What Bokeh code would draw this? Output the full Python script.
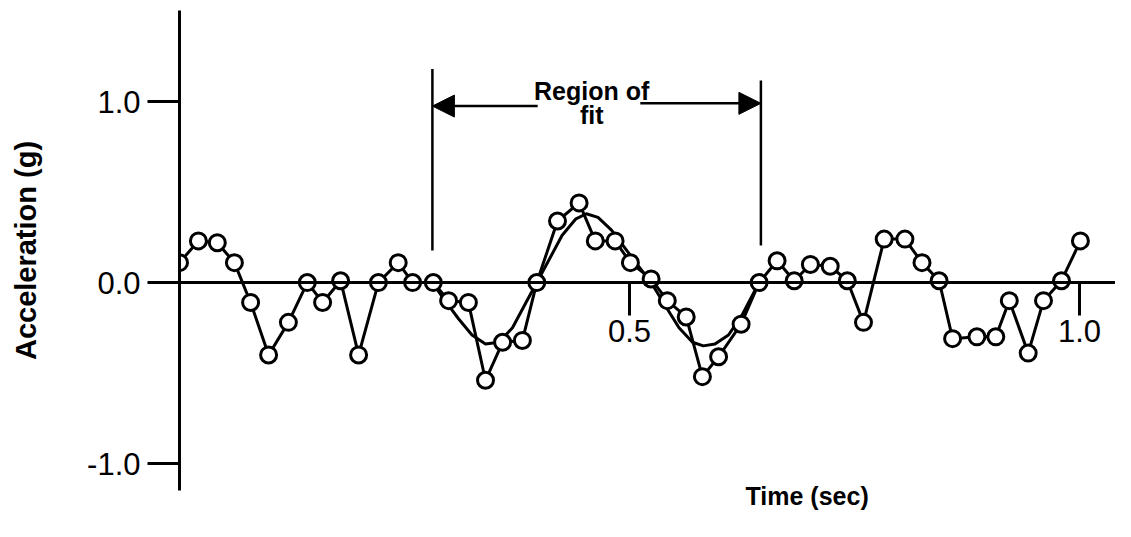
from bokeh.plotting import figure
from bokeh.models import FixedTicker, NumeralTickFormatter, Arrow, NormalHead, Range1d, Title
from bokeh.embed import file_html
from bokeh.resources import INLINE
from bokeh.core.properties import value

# measured samples (time in s, acceleration in g)
time_s = [0.000, 0.021, 0.042, 0.061, 0.079, 0.099, 0.121, 0.142, 0.159, 0.179,
          0.199, 0.221, 0.243, 0.259, 0.282, 0.299, 0.321, 0.340, 0.359, 0.381,
          0.397, 0.420, 0.444, 0.462, 0.484, 0.501, 0.524, 0.542, 0.563, 0.581,
          0.599, 0.624, 0.644, 0.664, 0.683, 0.701, 0.723, 0.742, 0.760, 0.783,
          0.806, 0.825, 0.844, 0.859, 0.886, 0.907, 0.922, 0.943, 0.960, 0.980,
          1.001]
accel_g = [0.11, 0.23, 0.22, 0.11, -0.11, -0.40, -0.22, 0.00, -0.11, 0.01,
           -0.40, 0.00, 0.11, 0.00, 0.00, -0.10, -0.11, -0.54, -0.33, -0.32,
           0.00, 0.34, 0.44, 0.23, 0.23, 0.11, 0.02, -0.10, -0.19, -0.52,
           -0.41, -0.23, 0.00, 0.12, 0.01, 0.10, 0.09, 0.01, -0.22, 0.24,
           0.24, 0.11, 0.01, -0.31, -0.30, -0.30, -0.10, -0.39, -0.10, 0.01,
           0.23]

# fitted curve over the region of fit
fit_t = [0.281, 0.295, 0.310, 0.325, 0.340, 0.355, 0.370, 0.385, 0.397, 0.410,
         0.425, 0.440, 0.452, 0.465, 0.480, 0.495, 0.510, 0.524, 0.540, 0.555,
         0.570, 0.582, 0.595, 0.610, 0.625, 0.644]
fit_a = [0.00, -0.10, -0.20, -0.29, -0.34, -0.33, -0.25, -0.11, 0.00, 0.12,
         0.26, 0.35, 0.38, 0.36, 0.29, 0.19, 0.09, 0.00, -0.13, -0.25,
         -0.33, -0.35, -0.34, -0.29, -0.18, 0.00]

y_ticks = [-1.0, 0.0, 1.0]
x_ticks = [0.5, 1.0]
region_start = 0.281
region_end = 0.646

FONT = "Liberation Sans"

p = figure(width=1115, height=521, output_backend="svg", toolbar_location=None,
           x_range=Range1d(0, 1.04), y_range=Range1d(-1.149, 1.503),
           min_border_left=179, min_border_right=0, min_border_top=10,
           min_border_bottom=31)
p.outline_line_color = None
p.grid.visible = False
p.background_fill_color = "white"

# y axis
yax = p.yaxis[0]
yax.ticker = FixedTicker(ticks=y_ticks)
yax.formatter = NumeralTickFormatter(format="0.0")
yax.axis_line_width = 3
yax.major_tick_line_width = 3
yax.major_tick_out = 32
yax.major_tick_in = 0
yax.minor_tick_out = 0
yax.minor_tick_in = 0
yax.major_label_standoff = 7
yax.major_label_text_font = FONT
yax.major_label_text_font_size = "31px"
yax.major_label_text_color = "black"
yax.axis_label = "Acceleration (g)"
yax.axis_label_text_font = FONT
yax.axis_label_text_font_size = "29px"
yax.axis_label_text_font_style = "bold"
yax.axis_label_text_color = "black"
yax.axis_label_standoff = 42

# x axis through zero
xax = p.xaxis[0]
xax.fixed_location = 0
xax.ticker = FixedTicker(ticks=x_ticks)
xax.formatter = NumeralTickFormatter(format="0.0")
xax.axis_line_width = 3
xax.major_tick_line_width = 3
xax.major_tick_out = 33
xax.major_tick_in = 0
xax.minor_tick_out = 0
xax.minor_tick_in = 0
xax.major_label_standoff = 4
xax.major_label_text_font = FONT
xax.major_label_text_font_size = "31px"
xax.major_label_text_color = "black"

# data
p.line(fit_t, fit_a, line_color="black", line_width=3)
p.line(time_s, accel_g, line_color="black", line_width=3)
p.scatter(time_s, accel_g, size=16, marker="circle", fill_color="white",
          line_color="black", line_width=3)

# region of fit markers
p.segment(x0=[region_start, region_end], y0=[0.177, 0.204],
          x1=[region_start, region_end], y1=[1.18, 1.116],
          line_color="black", line_width=2.5)
p.add_layout(Arrow(end=NormalHead(size=22, fill_color="black", line_color="black"),
                   x_start=0.398, y_start=0.975, x_end=region_start, y_end=0.975,
                   line_width=2.5, line_color="black"))
p.add_layout(Arrow(end=NormalHead(size=22, fill_color="black", line_color="black"),
                   x_start=0.512, y_start=0.99, x_end=region_end, y_end=0.99,
                   line_width=2.5, line_color="black"))
p.text(x=[0.458, 0.458], y=[1.06, 0.928], text=["Region of", "fit"],
       text_font=value(FONT), text_font_size="25px", text_font_style="bold",
       text_align="center", text_baseline="middle", text_color="black")

p.add_layout(Title(text="Time (sec)", align="left", offset=566, standoff=-21,
                   text_font=FONT, text_font_size="25px", text_font_style="bold",
                   text_color="black"), "below")

open("out.html", "w").write(file_html(p, INLINE))
